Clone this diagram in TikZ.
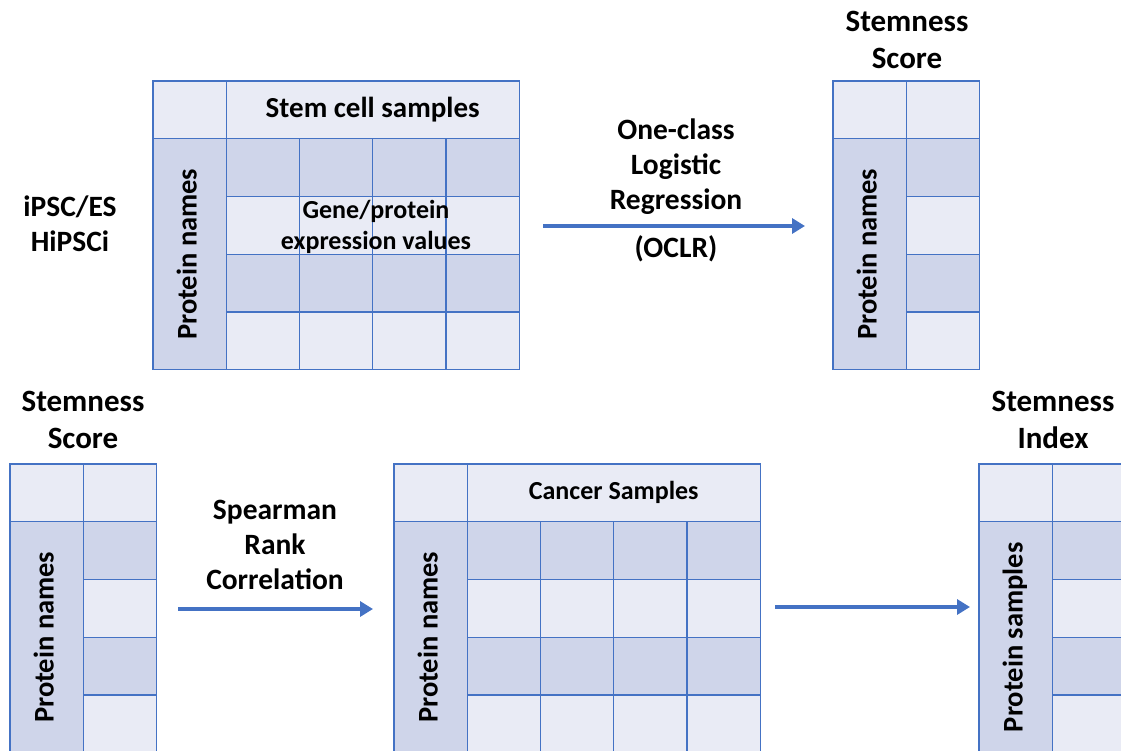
\documentclass[tikz,border=0pt]{standalone}
\usepackage{fontspec}
\setmainfont{Carlito}
\usetikzlibrary{arrows.meta}

\definecolor{gridblue}{HTML}{4472C4}
\definecolor{celllite}{HTML}{E9EBF5}
\definecolor{celldark}{HTML}{CFD5EA}

\tikzset{
  cell/.style={draw=gridblue,line width=1.3pt,anchor=north west,
    inner sep=0pt,outer sep=0pt,minimum width=73.25pt,minimum height=57.75pt},
  lite/.style={fill=celllite},
  dark/.style={fill=celldark},
  lbl/.style={font=\fontsize{29.5}{35}\selectfont\bfseries,align=center},
  title/.style={font=\fontsize{31}{37}\selectfont\bfseries,align=center},
  flow/.style={draw=gridblue,line width=4pt,-{Triangle[length=13pt,width=15pt]}}
}

\begin{document}
\begin{tikzpicture}[x=1pt,y=-1pt]
\useasboundingbox (0,0) rectangle (1121,751);
\clip (0,0) rectangle (1121,751);

% tables: name/left/top/data columns/row label/header size/header
\foreach \tb/\x/\y/\n/\side/\hs/\head in {
  A/153/81/4/Protein names/29/Stem cell samples,
  B/833/81/1/Protein names/29/,
  C/10/464/1/Protein names/29/,
  D/394/464/4/Protein names/26/Cancer Samples,
  E/979/464/1/Protein samples/29/}
{
  \pgfmathsetmacro\hw{\n*73.25}
  \node[cell,lite] (\tb-corner) at (\x,\y) {};
  \node[cell,lite,minimum width=\hw pt,font=\fontsize{\hs}{\hs}\selectfont\bfseries]
    (\tb-head) at (\x+73.25,\y) {\raisebox{3pt}{\head}};
  \node[cell,dark,minimum height=231pt,font=\fontsize{28.5}{34}\selectfont\bfseries]
    (\tb-names) at (\x,\y+57.75) {\rotatebox{90}{\raisebox{6pt}{\side}}};
  \foreach \c in {1,...,\n}
    \foreach \r/\f in {1/dark,2/lite,3/dark,4/lite}
      \node[cell,\f] (\tb-\c-\r) at (\x+\c*73.25,\y+\r*57.75) {};
}

\node[lbl,font=\fontsize{26}{31}\selectfont\bfseries] (expr) at (376,227)
  {Gene/protein\\expression values};

\node[lbl] (src) at (70,224) {iPSC/ES\\HiPSCi};
\node[lbl] (oclr) at (676,167) {One-class\\Logistic\\Regression};
\node[lbl] (oclr-abbr) at (676,249) {(OCLR)};
\node[title] (score-top) at (907,40) {Stemness\\Score};
\node[title] (score-bot) at (83,420) {Stemness\\Score};
\node[lbl] (spearman) at (275,545) {Spearman\\Rank\\Correlation};
\node[title] (index) at (1053,420) {Stemness\\Index};

% arrows
\coordinate (oclr-from) at (543,226);
\coordinate (oclr-to) at (805,226);
\coordinate (rank-from) at (178,609);
\coordinate (rank-to) at (373,609);
\coordinate (index-from) at (775,607);
\coordinate (index-to) at (970,607);
\draw[flow] (oclr-from) -- (oclr-to);
\draw[flow] (rank-from) -- (rank-to);
\draw[flow] (index-from) -- (index-to);
\end{tikzpicture}
\end{document}
